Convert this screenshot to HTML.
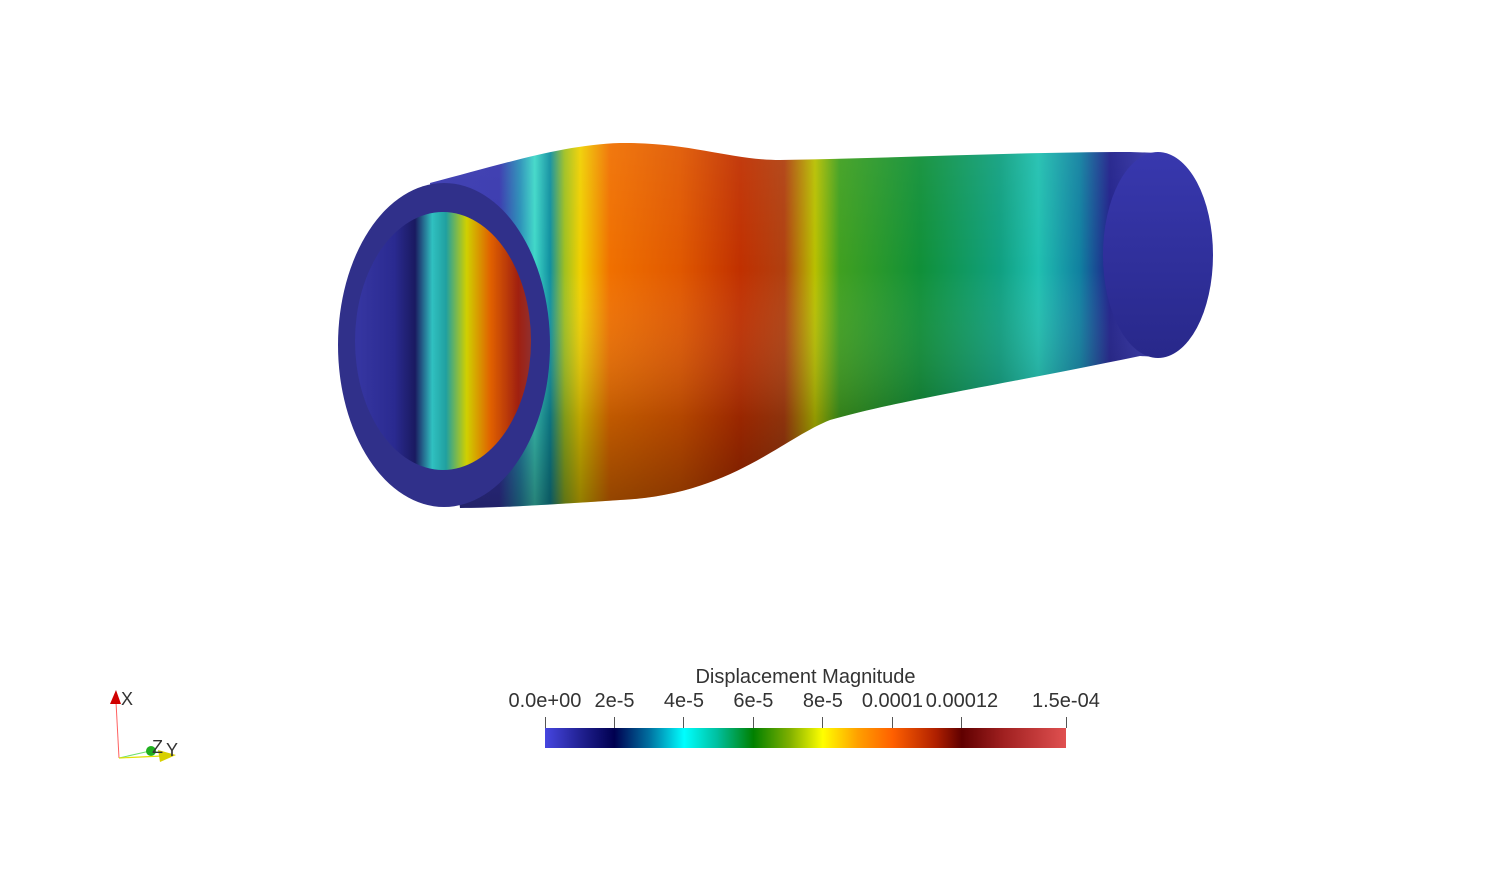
<!DOCTYPE html>
<html><head><meta charset="utf-8"><style>
html,body{margin:0;padding:0;background:#fff;}
#root{position:relative;width:1500px;height:878px;overflow:hidden;font-family:"Liberation Sans",sans-serif;}
</style></head><body>
<div id="root">
<svg width="1500" height="878" style="position:absolute;left:0;top:0">
<defs>
<linearGradient id="body" gradientUnits="userSpaceOnUse" x1="430" y1="0" x2="1200" y2="0">
<stop offset="0" stop-color="#3a3ab0"/>
<stop offset="0.09" stop-color="#3838ae"/>
<stop offset="0.117" stop-color="#2a90b8"/>
<stop offset="0.136" stop-color="#40d8c8"/>
<stop offset="0.156" stop-color="#1090a0"/>
<stop offset="0.175" stop-color="#a0c020"/>
<stop offset="0.195" stop-color="#f0d000"/>
<stop offset="0.234" stop-color="#f07000"/>
<stop offset="0.325" stop-color="#e05800"/>
<stop offset="0.403" stop-color="#c03000"/>
<stop offset="0.46" stop-color="#b04010"/>
<stop offset="0.5" stop-color="#b8c000"/>
<stop offset="0.532" stop-color="#40a020"/>
<stop offset="0.636" stop-color="#109038"/>
<stop offset="0.74" stop-color="#10a080"/>
<stop offset="0.79" stop-color="#20c0b0"/>
<stop offset="0.844" stop-color="#1080a0"/>
<stop offset="0.883" stop-color="#20208a"/>
<stop offset="0.935" stop-color="#3535a8"/>
<stop offset="1" stop-color="#3535a8"/>
</linearGradient>
<linearGradient id="shade" x1="0" y1="0" x2="0" y2="1">
<stop offset="0" stop-color="#fff" stop-opacity="0.06"/>
<stop offset="0.35" stop-color="#fff" stop-opacity="0"/>
<stop offset="0.75" stop-color="#000" stop-opacity="0.2"/>
<stop offset="1" stop-color="#000" stop-opacity="0.4"/>
</linearGradient>
<linearGradient id="cap" x1="0" y1="0" x2="0" y2="1">
<stop offset="0" stop-color="#3838ae"/>
<stop offset="1" stop-color="#28288a"/>
</linearGradient>
<linearGradient id="inner" gradientUnits="userSpaceOnUse" x1="360" y1="0" x2="532" y2="0">
<stop offset="0" stop-color="#3535a0"/>
<stop offset="0.2" stop-color="#2a2a90"/>
<stop offset="0.32" stop-color="#1a1a60"/>
<stop offset="0.42" stop-color="#30c0c0"/>
<stop offset="0.5" stop-color="#20a0a0"/>
<stop offset="0.62" stop-color="#d0d000"/>
<stop offset="0.76" stop-color="#e06000"/>
<stop offset="0.92" stop-color="#a02010"/>
<stop offset="1" stop-color="#903030"/>
</linearGradient>
</defs>
<path d="M430,183 C500,165 560,145 620,143 C690,142 730,160 780,160 C900,158 1020,152 1130,152 L1160,153 L1160,357 L1140,356 C1000,385 900,400 830,420 C780,440 730,495 620,500 C560,504 500,508 460,508 Z" fill="url(#body)"/>
<path d="M430,183 C500,165 560,145 620,143 C690,142 730,160 780,160 C900,158 1020,152 1130,152 L1160,153 L1160,357 L1140,356 C1000,385 900,400 830,420 C780,440 730,495 620,500 C560,504 500,508 460,508 Z" fill="url(#shade)"/>
<ellipse cx="1158" cy="255" rx="55" ry="103" fill="url(#cap)"/>
<ellipse cx="444" cy="345" rx="106" ry="162" fill="#30308a"/>
<ellipse cx="443" cy="341" rx="88" ry="129" fill="url(#inner)"/>
</svg>

<svg width="120" height="100" style="position:absolute;left:90px;top:680px">
<line x1="29" y1="78" x2="26" y2="22" stroke="#ff6060" stroke-width="1"/>
<polygon points="20,24 26,10 31,24" fill="#d00000"/>
<text x="31" y="25" font-size="18" fill="#333" font-family="Liberation Sans, sans-serif">X</text>
<line x1="29" y1="78" x2="60" y2="71" stroke="#70e070" stroke-width="1"/>
<circle cx="61" cy="71" r="5" fill="#20b020"/>
<line x1="29" y1="78" x2="72" y2="76" stroke="#e0e000" stroke-width="1.2"/>
<polygon points="68,70 86,75 70,82" fill="#d8d000"/>
<text x="62" y="73" font-size="18" fill="#333" font-family="Liberation Sans, sans-serif">Z</text>
<text x="76" y="76" font-size="18" fill="#333" font-family="Liberation Sans, sans-serif">Y</text>
</svg>

<div style="position:absolute;left:545px;width:521px;top:666px;text-align:center;font-size:20px;color:#333;">Displacement Magnitude</div>
<div style="position:absolute;left:545px;top:728px;width:521px;height:20px;background:linear-gradient(to right,#4646e0 0%,#202090 7%,#000050 13.3%,#0070a0 20%,#00ffff 26.7%,#00c0a0 33%,#008000 40%,#80b000 47%,#ffff00 53.3%,#ffa000 60%,#ff6000 66.7%,#b02000 75%,#600000 80%,#a02020 88%,#e05050 100%);"></div>
<div id="ticks"></div>
</div>
<script>
const tickValues=[0,2e-5,4e-5,6e-5,8e-5,0.0001,0.00012,1.5e-4];
const tickLabels=["0.0e+00","2e-5","4e-5","6e-5","8e-5","0.0001","0.00012","1.5e-04"];
const rangeMin=0, rangeMax=1.5e-4;
const root=document.getElementById('ticks');
function xs(v){return 545+(v-rangeMin)/(rangeMax-rangeMin)*521;}
tickValues.forEach((v,i)=>{
  const x=xs(v);
  const t=document.createElement('div');
  
  
  t.style.cssText='position:absolute;left:'+(x-0.5)+'px;top:717px;width:1px;height:11px;background:#555;';
  root.appendChild(t);
  const l=document.createElement('div');
  
  
  l.textContent=tickLabels[i];
  l.style.cssText='position:absolute;top:690px;font-size:20px;color:#333;white-space:nowrap;';
  root.appendChild(l);
  const w=l.offsetWidth;
  let left=x-w/2;
  if(i===0) left=Math.max(508,left);
  if(i===tickValues.length-1) left=Math.min(1101-w,left);
  l.style.left=left+'px';
});
</script>
</body></html>
